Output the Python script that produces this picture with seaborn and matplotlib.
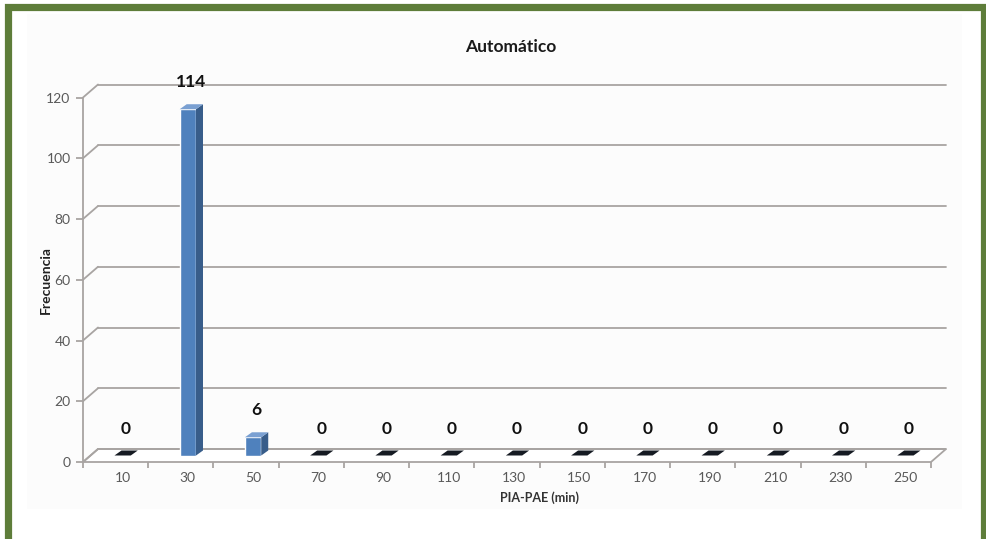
import numpy as np
import pandas as pd
import seaborn as sns
import matplotlib.pyplot as plt
from matplotlib.patches import Polygon, Rectangle
from matplotlib.lines import Line2D
from matplotlib.transforms import IdentityTransform, offset_copy

# Datos
categorias = ['10', '30', '50', '70', '90', '110', '130', '150', '170', '190', '210', '230', '250']
frecuencias = [0, 114, 6, 0, 0, 0, 0, 0, 0, 0, 0, 0, 0]
y_ticks = [0, 20, 40, 60, 80, 100, 120]

sns.set_style('white')
plt.rcParams['font.family'] = ['Lato', 'DejaVu Sans']

gris = '#a8a4a2'
texto_gris = '#595959'
verde = '#5e7d3a'

fig = plt.figure(figsize=(9.86, 5.39), dpi=100)
fig.patch.set_facecolor('white')

# marco verde y area del grafico
fig.patches.append(Rectangle((27 / 986, 30 / 539), 935 / 986, 495 / 539, transform=fig.transFigure,
                             facecolor='#fcfcfc', edgecolor='none', zorder=-2))
fig.patches.append(Rectangle((7.5 / 986, -0.1), 976 / 986, 1.1 - 7.5 / 539, transform=fig.transFigure,
                             facecolor='none', edgecolor=verde, linewidth=5.2, zorder=10))

ax = fig.add_axes([90 / 986, 83.5 / 539, 848 / 986, 364.5 / 539])
ax.set_facecolor('none')
df = pd.DataFrame({'PIA-PAE': categorias, 'Frecuencia': frecuencias})
sns.barplot(data=df, x='PIA-PAE', y='Frecuencia', color='#4f81bd', saturation=1,
            width=0.25, ax=ax, zorder=4)
ax.set_xlim(-0.5, 12.5)
ax.set_ylim(0, 120)
for s in ax.spines.values():
    s.set_visible(False)

# planos 3D: delantero y trasero (desplazamientos en pixeles)
fx, fy = -7, -6.5
bx, by = 8, 6.5
ident = IdentityTransform()


def px(x, y, dx=0, dy=0):
    p = ax.transData.transform((x, y))
    return (p[0] + dx, p[1] + dy)


front = offset_copy(ax.transData, fig=fig, x=fx, y=fy, units='dots')
back = offset_copy(ax.transData, fig=fig, x=bx, y=by, units='dots')

barras = list(ax.patches)

# suelo
suelo = [px(-0.5, 0, fx, fy), px(12.5, 0, fx, fy), px(12.5, 0, bx, by), px(-0.5, 0, bx, by)]
ax.add_patch(Polygon(suelo, closed=True, transform=ident, facecolor='white', edgecolor=gris,
                     linewidth=1.3, zorder=1, clip_on=False))

# lineas de division (pared trasera)
for v in y_ticks:
    ax.plot([-0.5, 12.5], [v, v], color=gris, lw=1.3, transform=back, zorder=1, clip_on=False)
    a, b = px(-0.5, v, fx, fy), px(-0.5, v, bx, by)
    ax.add_line(Line2D([a[0], b[0]], [a[1], b[1]], color=gris, lw=1.3, transform=ident,
                       zorder=1, clip_on=False))

# eje vertical delantero y marcas
ax.plot([-0.5, -0.5], [0, 120], color=gris, lw=1.3, transform=front, zorder=2, clip_on=False)
ax.plot([-0.5] * len(y_ticks), y_ticks, ls='', marker=0, ms=5, mew=1.3, color=gris,
        transform=front, clip_on=False)
ax.plot(np.arange(len(categorias) + 1) - 0.5, [0] * (len(categorias) + 1), ls='', marker=3,
        ms=4, mew=1.3, color=gris, transform=front, clip_on=False)

# caras laterales y superiores de las barras
ddx, ddy = 7, 5
for p in barras:
    x0, x1, h = p.get_x(), p.get_x() + p.get_width(), p.get_height()
    if h > 0:
        lado = [px(x1, 0), px(x1, h), px(x1, h, ddx, ddy), px(x1, 0, ddx, ddy)]
        ax.add_patch(Polygon(lado, transform=ident, facecolor='#385d8a', edgecolor='none',
                             zorder=4, clip_on=False))
        techo_color = '#7aa0d2'
    else:
        techo_color = '#151a22'
    techo = [px(x0, h), px(x1, h), px(x1, h, ddx, ddy), px(x0, h, ddx, ddy)]
    ax.add_patch(Polygon(techo, transform=ident, facecolor=techo_color, edgecolor='none',
                         zorder=5, clip_on=False))

# etiquetas de datos
for i, v in enumerate(frecuencias):
    ax.annotate(str(v), (i, v), xytext=(3, 27), textcoords='offset pixels', ha='center',
                va='center', fontsize=12.5, fontweight='bold', color='#111111', annotation_clip=False)

# ejes y textos
ax.set_yticks(y_ticks)
ax.tick_params(axis='y', length=0, pad=14, labelsize=10, labelcolor=texto_gris)
ax.tick_params(axis='x', length=0, pad=12, labelsize=10, labelcolor=texto_gris)
for lab in ax.get_yticklabels():
    lab.set_transform(offset_copy(lab.get_transform(), fig=fig, x=0, y=fy, units='dots'))

ax.set_xlabel('PIA-PAE (min)', fontsize=9, fontweight='bold', color='#333333')
ax.xaxis.set_label_coords((540 - 90) / 848, (455.5 - 491) / 364.5)
ax.set_ylabel('Frecuencia', fontsize=10, fontweight='bold', color='#222222')
ax.yaxis.set_label_coords((52 - 90) / 848, (455.5 - 280) / 364.5)
fig.text(511 / 986, 1 - 47 / 539, 'Automático', ha='center', va='center', fontsize=12.5,
         fontweight='bold', color='#1a1a1a')

fig.savefig('out.png', dpi=100)
